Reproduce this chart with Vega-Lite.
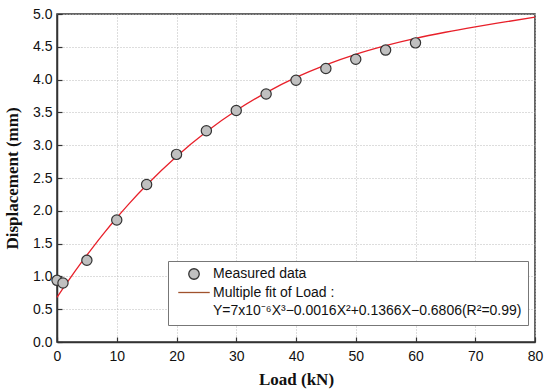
{
  "$schema": "https://vega.github.io/schema/vega-lite/v6.json",
  "width": 478,
  "height": 328,
  "autosize": "none",
  "padding": {"left": 57, "top": 14, "right": 15, "bottom": 49},
  "background": "white",
  "config": {
    "view": {"stroke": "#333", "strokeWidth": 1.5},
    "axis": {
      "domainColor": "#333",
      "domainWidth": 1.5,
      "tickColor": "#333",
      "tickSize": -5,
      "tickWidth": 1.2,
      "gridColor": "#bbbbbb",
      "gridDash": [1, 2],
      "gridWidth": 1,
      "labelFont": "Liberation Sans",
      "labelFontSize": 14,
      "labelColor": "#111",
      "titleFont": "Liberation Serif",
      "titleFontSize": 17,
      "titleFontWeight": "bold",
      "titleColor": "#111"
    }
  },
  "datasets": {
    "measured": [
      {"Load": 0, "Disp": 0.94, "series": "Measured data"},
      {"Load": 1, "Disp": 0.9, "series": "Measured data"},
      {"Load": 5, "Disp": 1.245, "series": "Measured data"},
      {"Load": 10, "Disp": 1.86, "series": "Measured data"},
      {"Load": 15, "Disp": 2.4, "series": "Measured data"},
      {"Load": 20, "Disp": 2.86, "series": "Measured data"},
      {"Load": 25, "Disp": 3.22, "series": "Measured data"},
      {"Load": 30, "Disp": 3.53, "series": "Measured data"},
      {"Load": 35, "Disp": 3.78, "series": "Measured data"},
      {"Load": 40, "Disp": 3.99, "series": "Measured data"},
      {"Load": 45, "Disp": 4.17, "series": "Measured data"},
      {"Load": 50, "Disp": 4.31, "series": "Measured data"},
      {"Load": 55, "Disp": 4.45, "series": "Measured data"},
      {"Load": 60, "Disp": 4.56, "series": "Measured data"}
    ],
    "fit": [
      {"Load": 0, "Disp": 0.681},
      {"Load": 1, "Disp": 0.816},
      {"Load": 2, "Disp": 0.948},
      {"Load": 3, "Disp": 1.076},
      {"Load": 4, "Disp": 1.202},
      {"Load": 6, "Disp": 1.444},
      {"Load": 8, "Disp": 1.675},
      {"Load": 10, "Disp": 1.894},
      {"Load": 12, "Disp": 2.102},
      {"Load": 15, "Disp": 2.393},
      {"Load": 20, "Disp": 2.829},
      {"Load": 25, "Disp": 3.205},
      {"Load": 30, "Disp": 3.528},
      {"Load": 35, "Disp": 3.802},
      {"Load": 40, "Disp": 4.033},
      {"Load": 45, "Disp": 4.226},
      {"Load": 50, "Disp": 4.386},
      {"Load": 55, "Disp": 4.518},
      {"Load": 60, "Disp": 4.629},
      {"Load": 65, "Disp": 4.722},
      {"Load": 70, "Disp": 4.804},
      {"Load": 75, "Disp": 4.879},
      {"Load": 80, "Disp": 4.953}
    ]
  },
  "encoding": {
    "x": {
      "field": "Load",
      "type": "quantitative",
      "scale": {"domain": [0, 80], "nice": false},
      "axis": {"values": [0, 10, 20, 30, 40, 50, 60, 70, 80], "title": "Load (kN)", "labelPadding": 12, "titlePadding": 8, "labelFlush": false}
    },
    "y": {
      "field": "Disp",
      "type": "quantitative",
      "scale": {"domain": [0, 5], "nice": false},
      "axis": {"values": [0, 0.5, 1, 1.5, 2, 2.5, 3, 3.5, 4, 4.5, 5], "format": ".1f", "title": "Displacement (mm)", "labelPadding": 10, "titlePadding": 11, "labelFlush": false}
    }
  },
  "layer": [
    {
      "data": {"name": "fit"},
      "mark": {"type": "line", "color": "#E8202A", "strokeWidth": 1.3, "interpolate": "monotone"}
    },
    {
      "data": {"name": "measured"},
      "mark": {"type": "point", "filled": true, "size": 105, "strokeWidth": 1.2, "opacity": 1},
      "encoding": {
        "color": {
          "field": "series",
          "type": "nominal",
          "scale": {"domain": ["Measured data", "Multiple fit of Load :", "Y=7x10⁻⁶X³−0.0016X²+0.1366X−0.6806(R²=0.99)"], "range": ["#C0C0C0", "transparent", "transparent"]},
          "legend": {
            "orient": "none",
            "legendX": 111,
            "legendY": 247,
            "title": null,
            "fillColor": "white",
            "strokeColor": "#777",
            "padding": 6,
            "rowPadding": 3.5,
            "labelFont": "Liberation Sans",
            "labelFontSize": 14,
            "labelColor": "#111",
            "labelLimit": 400,
            "symbolSize": 110,
            "symbolStrokeWidth": 1.3,
            "symbolOffset": 13,
            "labelOffset": 12
          }
        },
        "stroke": {
          "field": "series",
          "type": "nominal",
          "scale": {"domain": ["Measured data", "Multiple fit of Load :", "Y=7x10⁻⁶X³−0.0016X²+0.1366X−0.6806(R²=0.99)"], "range": ["#333333", "#A0522D", "transparent"]}
        },
        "shape": {
          "field": "series",
          "type": "nominal",
          "scale": {"domain": ["Measured data", "Multiple fit of Load :", "Y=7x10⁻⁶X³−0.0016X²+0.1366X−0.6806(R²=0.99)"], "range": ["circle", "M-3,0H3", "circle"]}
        }
      }
    }
  ]
}
